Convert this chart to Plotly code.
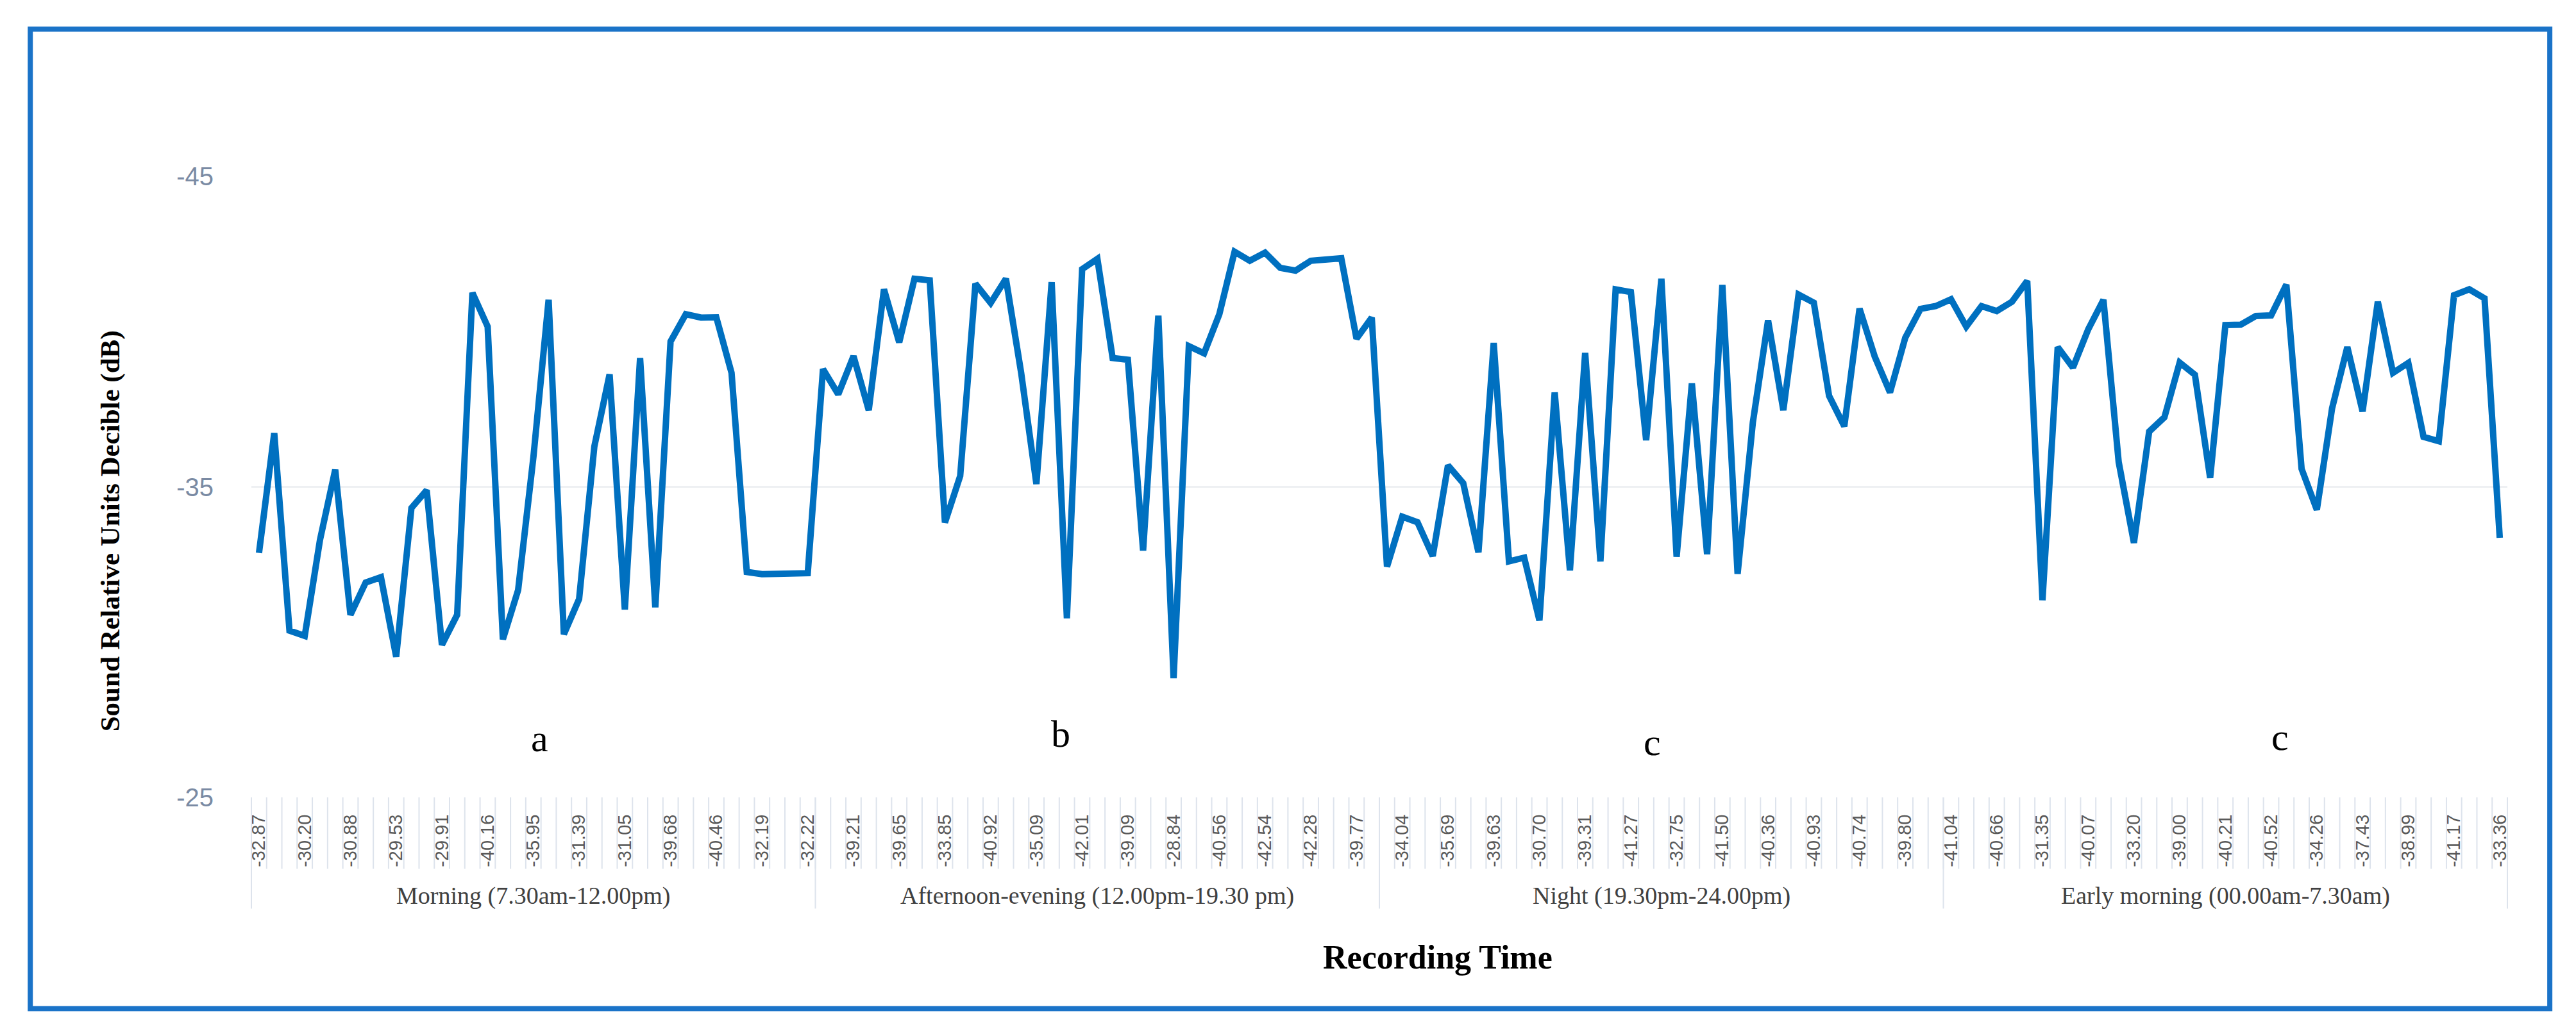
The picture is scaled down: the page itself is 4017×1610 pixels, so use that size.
import plotly.graph_objects as go

# ---- data ----
values = [
    -32.87, -36.73, -30.37, -30.20, -33.29, -35.55, -30.88, -31.92, -32.09, -29.53,
    -34.32, -34.89, -29.91, -30.88, -41.25, -40.16, -30.09, -31.68, -35.95, -41.02,
    -30.25, -31.39, -36.30, -38.62, -31.05, -39.15, -31.12, -39.68, -40.56, -40.45,
    -40.46, -38.67, -32.26, -32.19, -32.20, -32.23, -32.22,
    -38.79, -37.98, -39.21, -37.47, -41.36, -39.65, -41.70, -41.65, -33.85, -35.35,
    -41.54, -40.92, -41.70, -38.67, -35.09, -41.59, -30.77, -42.01, -42.34, -39.15,
    -39.09, -32.95, -40.51, -28.84, -39.53, -39.30, -40.56, -42.57, -42.28, -42.54,
    -42.05, -41.96, -42.28, -42.30, -42.36, -39.77, -40.45, -32.43,
    -34.04, -33.86, -32.77, -35.69, -35.12, -32.89, -39.63, -32.60, -32.72, -30.70,
    -38.04, -32.31, -39.31, -32.60, -41.36, -41.27, -36.50, -41.70, -32.75, -38.33,
    -32.83, -41.50, -32.20, -37.07, -40.36, -37.47, -41.19, -40.93, -37.93, -36.95,
    -40.74, -39.19, -38.04, -39.80, -40.73, -40.82,
    -41.04, -40.16, -40.82, -40.66, -40.96, -41.63, -31.35, -39.50, -38.84, -40.07,
    -41.02, -35.80, -33.20, -36.78, -37.24, -39.00, -38.61, -35.29, -40.21, -40.22,
    -40.50, -40.52, -41.51, -35.58, -34.26, -37.53, -39.50, -37.43, -40.96, -38.67,
    -38.99, -36.61, -36.47, -41.17, -41.36, -41.07, -33.36,
]

tick_labels = [
    "-32.87", "-30.20", "-30.88", "-29.53", "-29.91", "-40.16", "-35.95", "-31.39",
    "-31.05", "-39.68", "-40.46", "-32.19", "-32.22",
    "-39.21", "-39.65", "-33.85", "-40.92", "-35.09", "-42.01", "-39.09", "-28.84",
    "-40.56", "-42.54", "-42.28", "-39.77",
    "-34.04", "-35.69", "-39.63", "-30.70", "-39.31", "-41.27", "-32.75", "-41.50",
    "-40.36", "-40.93", "-40.74", "-39.80",
    "-41.04", "-40.66", "-31.35", "-40.07", "-33.20", "-39.00", "-40.21", "-40.52",
    "-34.26", "-37.43", "-38.99", "-41.17", "-33.36",
]
label_step = 3

groups = [
    "Morning (7.30am-12.00pm)",
    "Afternoon-evening (12.00pm-19.30 pm)",
    "Night (19.30pm-24.00pm)",
    "Early morning (00.00am-7.30am)",
]
group_sizes = [37, 37, 37, 37]

letters = ["a", "b", "c", "c"]

y_ticks = [-45, -35, -25]

# ---- figure ----
n = len(values)
x = list(range(n))

fig = go.Figure()
fig.add_trace(go.Scatter(
    x=x, y=values, mode="lines",
    line=dict(color="#0070c0", width=10),
    hoverinfo="skip", showlegend=False,
))

serif = "Liberation Serif"
sans = "Liberation Sans"

shapes = []
# category separator ticks in the label band
for j in range(n + 1):
    px = j / n
    shapes.append(dict(type="line", xref="paper", yref="paper",
                       x0=px, x1=px, y0=0, y1=-0.115,
                       line=dict(color="#dde3ec", width=2)))
# group separators
edge = 0
bounds = [0]
for s in group_sizes:
    edge += s
    bounds.append(edge)
for b in bounds:
    px = b / n
    shapes.append(dict(type="line", xref="paper", yref="paper",
                       x0=px, x1=px, y0=0, y1=-0.179,
                       line=dict(color="#dde3ec", width=2)))
# outer blue frame
shapes.append(dict(type="rect", xref="paper", yref="paper",
                   x0=-0.098, x1=1.0188, y0=-0.34, y1=1.2368,
                   line=dict(color="#1a73c8", width=8), fillcolor="rgba(0,0,0,0)"))

annotations = []
# group labels
start = 0
for g, s in zip(groups, group_sizes):
    cx = (start + s / 2) / n
    annotations.append(dict(text=g, xref="paper", yref="paper", x=cx, y=-0.158,
                            showarrow=False, xanchor="center", yanchor="middle",
                            font=dict(family=serif, size=38, color="#404040")))
    start += s

# letters above the axis
letter_pos = [(18.4, -26.9), (52.6, -27.05), (91.4, -26.78), (132.6, -26.94)]
for t, (lx, ly) in zip(letters, letter_pos):
    annotations.append(dict(text=t, xref="x", yref="y", x=lx, y=ly,
                            showarrow=False, xanchor="center", yanchor="middle",
                            font=dict(family=serif, size=60, color="#000000")))

# axis titles
annotations.append(dict(text="<b>Sound Relative Units Decible (dB)</b>",
                        xref="paper", yref="paper", x=-0.0623, y=0.4288,
                        textangle=-90, showarrow=False,
                        xanchor="center", yanchor="middle",
                        font=dict(family=serif, size=43, color="#000000")))
annotations.append(dict(text="<b>Recording Time</b>",
                        xref="paper", yref="paper", x=0.526, y=-0.2575,
                        showarrow=False, xanchor="center", yanchor="middle",
                        font=dict(family=serif, size=52, color="#000000")))

fig.update_layout(
    width=4017, height=1610,
    margin=dict(l=384, r=115, t=267, b=374),
    paper_bgcolor="white", plot_bgcolor="white",
    shapes=shapes, annotations=annotations,
    xaxis=dict(
        range=[-0.5, n - 0.5],
        tickmode="array",
        tickvals=list(range(0, n, label_step)),
        ticktext=tick_labels,
        tickangle=-90,
        tickfont=dict(family=sans, size=29, color="#595959"),
        ticks="outside", ticklen=14, tickcolor="rgba(0,0,0,0)",
        showgrid=False, zeroline=False, showline=False,
        fixedrange=True,
    ),
    yaxis=dict(
        range=[-25, -45],
        tickmode="array",
        tickvals=y_ticks,
        ticktext=[str(v) for v in y_ticks],
        tickfont=dict(family=sans, size=40, color="#7a8aa3"),
        ticks="outside", ticklen=50, tickcolor="rgba(0,0,0,0)",
        showgrid=True, gridcolor="#eef0f3", gridwidth=3,
        zeroline=False, showline=False,
        fixedrange=True,
    ),
)

fig.write_html("out.html")
